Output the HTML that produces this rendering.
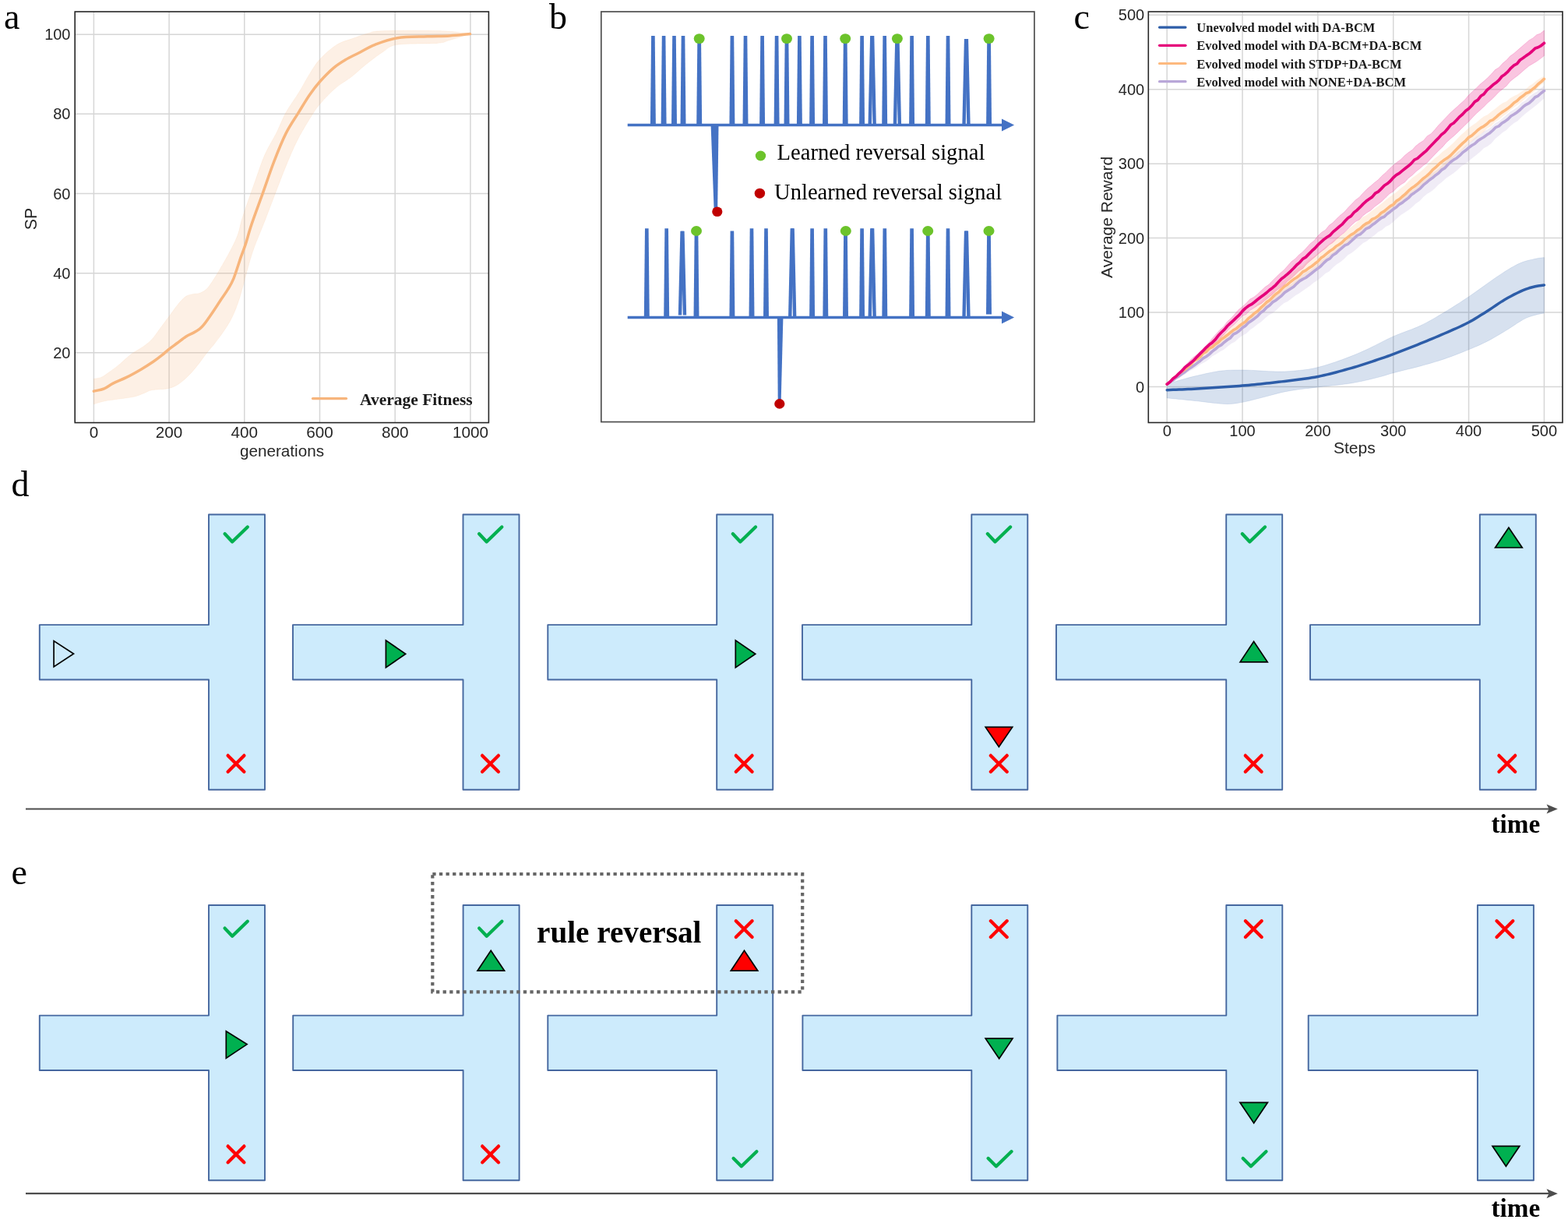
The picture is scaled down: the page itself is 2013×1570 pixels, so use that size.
<!DOCTYPE html>
<html><head><meta charset="utf-8"><title>Figure</title>
<style>html,body{margin:0;padding:0;background:#fff;} svg{display:block;}</style></head>
<body>
<svg width="2013" height="1570" viewBox="0 0 2013 1570">
<rect width="2013" height="1570" fill="#fff"/>
<text x="5" y="37.3" font-family="'Liberation Serif', 'Times New Roman', serif" font-size="46" font-weight="normal" text-anchor="start" fill="#000" >a</text>
<text x="705" y="37.3" font-family="'Liberation Serif', 'Times New Roman', serif" font-size="46" font-weight="normal" text-anchor="start" fill="#000" >b</text>
<text x="1378.5" y="37.3" font-family="'Liberation Serif', 'Times New Roman', serif" font-size="46" font-weight="normal" text-anchor="start" fill="#000" >c</text>
<text x="14.5" y="636.5" font-family="'Liberation Serif', 'Times New Roman', serif" font-size="46" font-weight="normal" text-anchor="start" fill="#000" >d</text>
<text x="14.5" y="1135.2" font-family="'Liberation Serif', 'Times New Roman', serif" font-size="46" font-weight="normal" text-anchor="start" fill="#000" >e</text>
<g>
<line x1="120.40" y1="15.0" x2="120.40" y2="542.6" stroke="#d6d6d6" stroke-width="1.5"/>
<line x1="217.10" y1="15.0" x2="217.10" y2="542.6" stroke="#d6d6d6" stroke-width="1.5"/>
<line x1="313.80" y1="15.0" x2="313.80" y2="542.6" stroke="#d6d6d6" stroke-width="1.5"/>
<line x1="410.50" y1="15.0" x2="410.50" y2="542.6" stroke="#d6d6d6" stroke-width="1.5"/>
<line x1="507.20" y1="15.0" x2="507.20" y2="542.6" stroke="#d6d6d6" stroke-width="1.5"/>
<line x1="603.90" y1="15.0" x2="603.90" y2="542.6" stroke="#d6d6d6" stroke-width="1.5"/>
<line x1="96.2" y1="452.84" x2="627.4" y2="452.84" stroke="#d6d6d6" stroke-width="1.5"/>
<line x1="96.2" y1="350.68" x2="627.4" y2="350.68" stroke="#d6d6d6" stroke-width="1.5"/>
<line x1="96.2" y1="248.52" x2="627.4" y2="248.52" stroke="#d6d6d6" stroke-width="1.5"/>
<line x1="96.2" y1="146.36" x2="627.4" y2="146.36" stroke="#d6d6d6" stroke-width="1.5"/>
<line x1="96.2" y1="44.20" x2="627.4" y2="44.20" stroke="#d6d6d6" stroke-width="1.5"/>
</g>
<path d="M120.40,486.30 C121.98,485.98 127.03,485.52 129.90,484.40 C132.77,483.28 133.77,482.30 137.60,479.60 C141.43,476.90 147.80,472.33 152.90,468.20 C158.00,464.07 163.10,458.63 168.20,454.80 C173.30,450.97 179.05,448.38 183.50,445.20 C187.95,442.02 191.08,439.83 194.90,435.70 C198.72,431.57 202.57,425.50 206.40,420.40 C210.23,415.30 214.08,410.20 217.90,405.10 C221.72,400.00 225.80,393.93 229.30,389.80 C232.80,385.67 235.72,382.37 238.90,380.30 C242.08,378.23 245.53,378.05 248.40,377.40 C251.27,376.75 253.23,377.52 256.10,376.40 C258.97,375.28 262.42,373.88 265.60,370.70 C268.78,367.52 271.70,362.72 275.20,357.30 C278.70,351.88 282.78,344.88 286.60,338.20 C290.42,331.52 294.92,323.57 298.10,317.20 C301.28,310.83 303.45,306.48 305.70,300.00 C307.95,293.52 308.07,289.23 311.60,278.30 C315.13,267.37 322.13,247.77 326.90,234.40 C331.67,221.03 335.43,208.93 340.20,198.10 C344.97,187.27 351.03,178.32 355.50,169.40 C359.97,160.48 362.22,153.18 367.00,144.60 C371.78,136.02 379.12,126.18 384.20,117.90 C389.28,109.62 393.05,101.92 397.50,94.90 C401.95,87.88 405.17,82.00 410.90,75.80 C416.63,69.60 425.22,61.98 431.90,57.70 C438.58,53.42 444.32,52.55 451.00,50.10 C457.68,47.65 465.32,44.73 472.00,43.00 C478.68,41.27 475.18,40.25 491.10,39.70 C507.02,39.15 548.77,39.05 567.50,39.70 C586.23,40.35 597.50,42.95 603.50,43.60 L603.50,43.60 C599.10,44.93 584.05,49.63 577.10,51.60 C570.15,53.57 572.95,54.45 561.80,55.40 C550.65,56.35 521.98,55.38 510.20,57.30 C498.42,59.22 498.10,62.45 491.10,66.90 C484.10,71.35 474.88,78.68 468.20,84.00 C461.52,89.32 457.05,94.12 451.00,98.80 C444.95,103.48 438.27,106.70 431.90,112.10 C425.53,117.50 417.88,125.47 412.80,131.20 C407.72,136.93 406.48,138.53 401.40,146.50 C396.32,154.47 388.03,167.85 382.30,179.00 C376.57,190.15 371.78,201.93 367.00,213.40 C362.22,224.87 358.07,236.20 353.60,247.80 C349.13,259.40 344.88,270.97 340.20,283.00 C335.52,295.03 329.33,309.20 325.50,320.00 C321.67,330.80 320.17,337.43 317.20,347.80 C314.23,358.17 310.88,372.33 307.70,382.20 C304.52,392.07 301.62,399.68 298.10,407.00 C294.58,414.32 290.42,420.37 286.60,426.10 C282.78,431.83 278.70,436.93 275.20,441.40 C271.70,445.87 269.10,448.43 265.60,452.90 C262.10,457.37 258.02,463.43 254.20,468.20 C250.38,472.97 246.85,477.37 242.70,481.50 C238.55,485.63 233.77,490.13 229.30,493.00 C224.83,495.87 221.63,497.42 215.90,498.70 C210.17,499.98 199.98,499.73 194.90,500.70 C189.82,501.67 189.22,503.07 185.40,504.50 C181.58,505.93 177.42,508.03 172.00,509.30 C166.58,510.57 159.27,511.15 152.90,512.10 C146.53,513.05 139.22,513.88 133.80,515.00 C128.38,516.12 122.63,518.17 120.40,518.80 Z" fill="#F7B57C" fill-opacity="0.2" stroke="#F7B57C" stroke-opacity="0.12" stroke-width="1"/>
<path d="M120.40,502.20 C122.63,501.63 129.67,500.48 133.80,498.80 C137.93,497.12 140.43,494.50 145.20,492.10 C149.97,489.70 156.35,487.43 162.40,484.40 C168.45,481.37 175.77,477.25 181.50,473.90 C187.23,470.55 192.33,467.33 196.80,464.30 C201.27,461.27 205.12,458.23 208.30,455.70 C211.48,453.17 212.72,451.63 215.90,449.10 C219.08,446.57 223.57,443.37 227.40,440.50 C231.23,437.63 235.38,434.13 238.90,431.90 C242.42,429.67 245.63,428.70 248.50,427.10 C251.37,425.50 253.88,424.05 256.10,422.30 C258.32,420.55 259.25,419.78 261.80,416.60 C264.35,413.42 267.90,408.30 271.40,403.20 C274.90,398.10 279.30,391.25 282.80,386.00 C286.30,380.75 289.53,376.48 292.40,371.70 C295.27,366.92 297.18,364.27 300.00,357.30 C302.82,350.33 306.75,337.22 309.30,329.90 C311.85,322.58 313.02,320.40 315.30,313.40 C317.58,306.40 319.32,298.83 323.00,287.90 C326.68,276.97 332.62,261.18 337.40,247.80 C342.18,234.42 346.77,220.33 351.70,207.60 C356.63,194.87 361.75,181.90 367.00,171.40 C372.25,160.90 378.12,152.88 383.20,144.60 C388.28,136.32 392.88,128.38 397.50,121.70 C402.12,115.02 405.80,110.23 410.90,104.50 C416.00,98.77 422.68,91.92 428.10,87.30 C433.52,82.68 438.08,79.98 443.40,76.80 C448.72,73.62 453.65,71.45 460.00,68.20 C466.35,64.95 473.13,60.55 481.50,57.30 C489.87,54.05 499.05,50.45 510.20,48.70 C521.35,46.95 537.25,47.27 548.40,46.80 C559.55,46.33 567.92,46.43 577.10,45.90 C586.28,45.37 599.10,43.98 603.50,43.60" fill="none" stroke="#F7B57C" stroke-width="3.5" stroke-linejoin="round" stroke-linecap="round"/>
<rect x="96.2" y="15.0" width="531.20" height="527.60" fill="none" stroke="#262626" stroke-width="1.6"/>
<text x="120.40" y="562.0" font-family="'Liberation Sans', Arial, sans-serif" font-size="20.7" font-weight="normal" text-anchor="middle" fill="#262626" >0</text>
<text x="217.10" y="562.0" font-family="'Liberation Sans', Arial, sans-serif" font-size="20.7" font-weight="normal" text-anchor="middle" fill="#262626" >200</text>
<text x="313.80" y="562.0" font-family="'Liberation Sans', Arial, sans-serif" font-size="20.7" font-weight="normal" text-anchor="middle" fill="#262626" >400</text>
<text x="410.50" y="562.0" font-family="'Liberation Sans', Arial, sans-serif" font-size="20.7" font-weight="normal" text-anchor="middle" fill="#262626" >600</text>
<text x="507.20" y="562.0" font-family="'Liberation Sans', Arial, sans-serif" font-size="20.7" font-weight="normal" text-anchor="middle" fill="#262626" >800</text>
<text x="603.90" y="562.0" font-family="'Liberation Sans', Arial, sans-serif" font-size="20.7" font-weight="normal" text-anchor="middle" fill="#262626" >1000</text>
<text x="90.5" y="459.94" font-family="'Liberation Sans', Arial, sans-serif" font-size="20" font-weight="normal" text-anchor="end" fill="#262626" >20</text>
<text x="90.5" y="357.78" font-family="'Liberation Sans', Arial, sans-serif" font-size="20" font-weight="normal" text-anchor="end" fill="#262626" >40</text>
<text x="90.5" y="255.62" font-family="'Liberation Sans', Arial, sans-serif" font-size="20" font-weight="normal" text-anchor="end" fill="#262626" >60</text>
<text x="90.5" y="153.46" font-family="'Liberation Sans', Arial, sans-serif" font-size="20" font-weight="normal" text-anchor="end" fill="#262626" >80</text>
<text x="90.5" y="51.30" font-family="'Liberation Sans', Arial, sans-serif" font-size="20" font-weight="normal" text-anchor="end" fill="#262626" >100</text>
<text x="362" y="585.6" font-family="'Liberation Sans', Arial, sans-serif" font-size="20.7" font-weight="normal" text-anchor="middle" fill="#262626" >generations</text>
<text x="0" y="0" font-family="'Liberation Sans', Arial, sans-serif" font-size="21.3" font-weight="normal" text-anchor="middle" fill="#262626" transform="translate(46.9,281) rotate(-90)">SP</text>
<line x1="401.5" y1="511.6" x2="444.5" y2="511.6" stroke="#F7B57C" stroke-width="3.3" stroke-linecap="round"/>
<text x="462" y="519.6" font-family="'Liberation Serif', 'Times New Roman', serif" font-size="21.5" font-weight="bold" text-anchor="start" fill="#1a1a1a" >Average Fitness</text>
<rect x="771.8" y="15.0" width="556.1" height="526.6" fill="none" stroke="#4f4f4f" stroke-width="1.7"/>
<line x1="805.7" y1="160.5" x2="1288" y2="160.5" stroke="#4472C4" stroke-width="3.4"/>
<path d="M1286,152.5 L1302.1,160.5 L1286,168.5 Z" fill="#4472C4"/>
<path d="M834.90,161.50 L836.10,46.00 L840.70,46.00 L841.90,161.50 Z" fill="#4472C4"/>
<path d="M848.60,161.50 L849.80,46.00 L854.40,46.00 L855.60,161.50 Z" fill="#4472C4"/>
<path d="M862.00,161.50 L863.20,46.00 L867.80,46.00 L869.00,161.50 Z" fill="#4472C4"/>
<path d="M873.50,161.50 L874.70,46.00 L879.30,46.00 L880.50,161.50 Z" fill="#4472C4"/>
<path d="M894.20,161.50 L895.40,46.00 L900.00,46.00 L901.20,161.50 Z" fill="#4472C4"/>
<path d="M936.40,161.50 L937.60,46.00 L942.20,46.00 L943.40,161.50 Z" fill="#4472C4"/>
<path d="M953.50,161.50 L954.70,46.00 L959.30,46.00 L960.50,161.50 Z" fill="#4472C4"/>
<path d="M975.10,161.50 L976.30,46.00 L980.90,46.00 L982.10,161.50 Z" fill="#4472C4"/>
<path d="M993.60,161.50 L994.80,46.00 L999.40,46.00 L1000.60,161.50 Z" fill="#4472C4"/>
<path d="M1006.50,161.50 L1007.70,46.00 L1012.30,46.00 L1013.50,161.50 Z" fill="#4472C4"/>
<path d="M1022.90,161.50 L1024.10,46.00 L1028.70,46.00 L1029.90,161.50 Z" fill="#4472C4"/>
<path d="M1039.10,161.50 L1040.30,46.00 L1044.90,46.00 L1046.10,161.50 Z" fill="#4472C4"/>
<path d="M1056.00,161.50 L1057.20,46.00 L1061.80,46.00 L1063.00,161.50 Z" fill="#4472C4"/>
<path d="M1081.70,161.50 L1082.90,46.00 L1087.50,46.00 L1088.70,161.50 Z" fill="#4472C4"/>
<path d="M1103.10,161.50 L1104.30,46.00 L1108.90,46.00 L1110.10,161.50 Z" fill="#4472C4"/>
<path d="M1114.50,161.50 L1117.10,46.00 L1121.50,46.00 L1118.90,161.50 Z" fill="#4472C4"/>
<path d="M1120.50,161.50 L1117.90,46.00 L1122.30,46.00 L1124.90,161.50 Z" fill="#4472C4"/>
<path d="M1132.20,161.50 L1133.40,46.00 L1138.00,46.00 L1139.20,161.50 Z" fill="#4472C4"/>
<path d="M1146.70,161.50 L1149.30,46.00 L1153.70,46.00 L1151.10,161.50 Z" fill="#4472C4"/>
<path d="M1152.70,161.50 L1150.10,46.00 L1154.50,46.00 L1157.10,161.50 Z" fill="#4472C4"/>
<path d="M1167.10,161.50 L1168.30,46.00 L1172.90,46.00 L1174.10,161.50 Z" fill="#4472C4"/>
<path d="M1187.80,161.50 L1189.00,46.00 L1193.60,46.00 L1194.80,161.50 Z" fill="#4472C4"/>
<path d="M1213.50,161.50 L1214.70,46.00 L1219.30,46.00 L1220.50,161.50 Z" fill="#4472C4"/>
<path d="M1235.30,161.50 L1237.90,49.90 L1242.30,49.90 L1239.70,161.50 Z" fill="#4472C4"/>
<path d="M1241.30,161.50 L1238.70,49.90 L1243.10,49.90 L1245.70,161.50 Z" fill="#4472C4"/>
<path d="M1266.10,161.50 L1267.30,46.00 L1271.90,46.00 L1273.10,161.50 Z" fill="#4472C4"/>
<ellipse cx="897.7" cy="49.6" rx="7" ry="6.4" fill="#6CC32B"/>
<ellipse cx="1010" cy="49.6" rx="7" ry="6.4" fill="#6CC32B"/>
<ellipse cx="1085.2" cy="49.6" rx="7" ry="6.4" fill="#6CC32B"/>
<ellipse cx="1151.9" cy="49.6" rx="7" ry="6.4" fill="#6CC32B"/>
<ellipse cx="1269.6" cy="49.6" rx="7" ry="6.4" fill="#6CC32B"/>
<path d="M912.6,161 L922.5,161 L921.2,268 L916.6,268 Z" fill="#4472C4"/>
<ellipse cx="920.8" cy="271.8" rx="6.6" ry="6.3" fill="#C00000"/>
<line x1="805.7" y1="407.5" x2="1288" y2="407.5" stroke="#4472C4" stroke-width="3.4"/>
<path d="M1286,399.5 L1302.1,407.5 L1286,415.5 Z" fill="#4472C4"/>
<path d="M826.80,408.50 L828.00,293.30 L832.60,293.30 L833.80,408.50 Z" fill="#4472C4"/>
<path d="M852.20,408.50 L853.40,293.30 L858.00,293.30 L859.20,408.50 Z" fill="#4472C4"/>
<path d="M870.80,404.40 L873.40,296.80 L877.80,296.80 L875.20,404.40 Z" fill="#4472C4"/>
<path d="M876.80,404.40 L874.20,296.80 L878.60,296.80 L881.20,404.40 Z" fill="#4472C4"/>
<path d="M890.50,408.50 L891.70,293.30 L896.30,293.30 L897.50,408.50 Z" fill="#4472C4"/>
<path d="M936.40,408.50 L937.60,296.60 L942.20,296.60 L943.40,408.50 Z" fill="#4472C4"/>
<path d="M961.50,408.50 L962.70,293.30 L967.30,293.30 L968.50,408.50 Z" fill="#4472C4"/>
<path d="M980.00,408.50 L981.20,293.30 L985.80,293.30 L987.00,408.50 Z" fill="#4472C4"/>
<path d="M1012.00,408.50 L1014.60,293.30 L1019.00,293.30 L1016.40,408.50 Z" fill="#4472C4"/>
<path d="M1018.00,408.50 L1015.40,293.30 L1019.80,293.30 L1022.40,408.50 Z" fill="#4472C4"/>
<path d="M1039.10,408.50 L1040.30,293.30 L1044.90,293.30 L1046.10,408.50 Z" fill="#4472C4"/>
<path d="M1056.30,408.50 L1057.50,293.30 L1062.10,293.30 L1063.30,408.50 Z" fill="#4472C4"/>
<path d="M1082.00,408.50 L1083.20,293.30 L1087.80,293.30 L1089.00,408.50 Z" fill="#4472C4"/>
<path d="M1103.10,408.50 L1104.30,293.30 L1108.90,293.30 L1110.10,408.50 Z" fill="#4472C4"/>
<path d="M1114.50,408.50 L1117.10,293.30 L1121.50,293.30 L1118.90,408.50 Z" fill="#4472C4"/>
<path d="M1120.50,408.50 L1117.90,293.30 L1122.30,293.30 L1124.90,408.50 Z" fill="#4472C4"/>
<path d="M1132.30,408.50 L1133.50,293.30 L1138.10,293.30 L1139.30,408.50 Z" fill="#4472C4"/>
<path d="M1167.10,408.50 L1168.30,293.30 L1172.90,293.30 L1174.10,408.50 Z" fill="#4472C4"/>
<path d="M1187.80,408.50 L1189.00,293.30 L1193.60,293.30 L1194.80,408.50 Z" fill="#4472C4"/>
<path d="M1213.50,408.50 L1214.70,293.30 L1219.30,293.30 L1220.50,408.50 Z" fill="#4472C4"/>
<path d="M1235.30,408.50 L1237.90,296.60 L1242.30,296.60 L1239.70,408.50 Z" fill="#4472C4"/>
<path d="M1241.30,408.50 L1238.70,296.60 L1243.10,296.60 L1245.70,408.50 Z" fill="#4472C4"/>
<path d="M1266.00,403.60 L1267.20,293.30 L1271.80,293.30 L1273.00,403.60 Z" fill="#4472C4"/>
<ellipse cx="894.0" cy="296.5" rx="7" ry="6.4" fill="#6CC32B"/>
<ellipse cx="1085.8" cy="296.5" rx="7" ry="6.4" fill="#6CC32B"/>
<ellipse cx="1191.2" cy="296.5" rx="7" ry="6.4" fill="#6CC32B"/>
<ellipse cx="1269.5" cy="296.5" rx="7" ry="6.4" fill="#6CC32B"/>
<path d="M997.9,408 L1005.4,408 L1002.7,514 L998.7,514 Z" fill="#4472C4"/>
<ellipse cx="1000.8" cy="518.4" rx="6.6" ry="6.3" fill="#C00000"/>
<ellipse cx="976.5" cy="200" rx="6.7" ry="6.5" fill="#6CC32B"/>
<ellipse cx="975.4" cy="248.2" rx="6.7" ry="6.5" fill="#C00000"/>
<text x="997.6" y="205" font-family="'Liberation Serif', 'Times New Roman', serif" font-size="28.6" font-weight="normal" text-anchor="start" fill="#000" >Learned reversal signal</text>
<text x="994" y="255.5" font-family="'Liberation Serif', 'Times New Roman', serif" font-size="28.6" font-weight="normal" text-anchor="start" fill="#000" >Unlearned reversal signal</text>
<line x1="1498.20" y1="15.0" x2="1498.20" y2="542.5" stroke="#d6d6d6" stroke-width="1.5"/>
<line x1="1595.04" y1="15.0" x2="1595.04" y2="542.5" stroke="#d6d6d6" stroke-width="1.5"/>
<line x1="1691.88" y1="15.0" x2="1691.88" y2="542.5" stroke="#d6d6d6" stroke-width="1.5"/>
<line x1="1788.72" y1="15.0" x2="1788.72" y2="542.5" stroke="#d6d6d6" stroke-width="1.5"/>
<line x1="1885.56" y1="15.0" x2="1885.56" y2="542.5" stroke="#d6d6d6" stroke-width="1.5"/>
<line x1="1982.40" y1="15.0" x2="1982.40" y2="542.5" stroke="#d6d6d6" stroke-width="1.5"/>
<line x1="1474.3" y1="496.50" x2="2006.0" y2="496.50" stroke="#d6d6d6" stroke-width="1.5"/>
<line x1="1474.3" y1="401.05" x2="2006.0" y2="401.05" stroke="#d6d6d6" stroke-width="1.5"/>
<line x1="1474.3" y1="305.60" x2="2006.0" y2="305.60" stroke="#d6d6d6" stroke-width="1.5"/>
<line x1="1474.3" y1="210.15" x2="2006.0" y2="210.15" stroke="#d6d6d6" stroke-width="1.5"/>
<line x1="1474.3" y1="114.70" x2="2006.0" y2="114.70" stroke="#d6d6d6" stroke-width="1.5"/>
<line x1="1474.3" y1="19.25" x2="2006.0" y2="19.25" stroke="#d6d6d6" stroke-width="1.5"/>
<path d="M1498.20,493.16 L1502.07,491.92 L1505.95,490.67 L1509.82,489.46 L1513.69,488.32 L1517.57,487.22 L1521.44,486.14 L1525.32,485.09 L1529.19,484.07 L1533.06,483.10 L1536.94,482.20 L1540.81,481.30 L1544.68,480.40 L1548.56,479.53 L1552.43,478.69 L1556.30,477.90 L1560.18,477.19 L1564.05,476.57 L1567.92,476.05 L1571.80,475.66 L1575.67,475.37 L1579.55,475.17 L1583.42,475.05 L1587.29,475.00 L1591.17,474.99 L1595.04,475.02 L1598.91,475.10 L1602.79,475.22 L1606.66,475.39 L1610.53,475.59 L1614.41,475.81 L1618.28,476.04 L1622.16,476.27 L1626.03,476.49 L1629.90,476.68 L1633.78,476.84 L1637.65,476.96 L1641.52,477.02 L1645.40,477.02 L1649.27,476.92 L1653.14,476.75 L1657.02,476.49 L1660.89,476.18 L1664.76,475.82 L1668.64,475.42 L1672.51,475.00 L1676.39,474.55 L1680.26,474.01 L1684.13,473.35 L1688.01,472.54 L1691.88,471.59 L1695.75,470.53 L1699.63,469.41 L1703.50,468.25 L1707.37,467.03 L1711.25,465.77 L1715.12,464.47 L1719.00,463.12 L1722.87,461.72 L1726.74,460.29 L1730.62,458.83 L1734.49,457.32 L1738.36,455.77 L1742.24,454.17 L1746.11,452.53 L1749.98,450.84 L1753.86,449.09 L1757.73,447.25 L1761.60,445.34 L1765.48,443.38 L1769.35,441.40 L1773.23,439.41 L1777.10,437.45 L1780.97,435.53 L1784.85,433.67 L1788.72,431.91 L1792.59,430.26 L1796.47,428.71 L1800.34,427.23 L1804.21,425.79 L1808.09,424.35 L1811.96,422.89 L1815.84,421.37 L1819.71,419.75 L1823.58,418.02 L1827.46,416.15 L1831.33,414.16 L1835.20,412.06 L1839.08,409.89 L1842.95,407.65 L1846.82,405.36 L1850.70,403.05 L1854.57,400.73 L1858.44,398.39 L1862.32,396.00 L1866.19,393.58 L1870.07,391.12 L1873.94,388.63 L1877.81,386.10 L1881.69,383.53 L1885.56,380.93 L1889.43,378.28 L1893.31,375.57 L1897.18,372.82 L1901.05,370.06 L1904.93,367.28 L1908.80,364.50 L1912.68,361.74 L1916.55,359.01 L1920.42,356.32 L1924.30,353.69 L1928.17,351.13 L1932.04,348.62 L1935.92,346.18 L1939.79,343.85 L1943.66,341.65 L1947.54,339.62 L1951.41,337.81 L1955.28,336.28 L1959.16,335.05 L1963.03,334.04 L1966.91,333.14 L1970.78,332.29 L1974.65,331.47 L1978.53,331.01 L1982.40,330.61 L1982.40,402.00 L1978.53,402.68 L1974.65,403.42 L1970.78,404.46 L1966.91,405.55 L1963.03,406.80 L1959.16,408.36 L1955.28,410.36 L1951.41,412.65 L1947.54,415.10 L1943.66,417.66 L1939.79,420.22 L1935.92,422.73 L1932.04,425.10 L1928.17,427.43 L1924.30,429.75 L1920.42,432.03 L1916.55,434.26 L1912.68,436.39 L1908.80,438.42 L1904.93,440.34 L1901.05,442.15 L1897.18,443.89 L1893.31,445.56 L1889.43,447.18 L1885.56,448.78 L1881.69,450.37 L1877.81,451.93 L1873.94,453.47 L1870.07,454.99 L1866.19,456.47 L1862.32,457.90 L1858.44,459.30 L1854.57,460.64 L1850.70,461.93 L1846.82,463.17 L1842.95,464.37 L1839.08,465.53 L1835.20,466.65 L1831.33,467.75 L1827.46,468.83 L1823.58,469.89 L1819.71,470.92 L1815.84,471.92 L1811.96,472.89 L1808.09,473.84 L1804.21,474.79 L1800.34,475.74 L1796.47,476.70 L1792.59,477.68 L1788.72,478.69 L1784.85,479.78 L1780.97,480.97 L1777.10,482.18 L1773.23,483.33 L1769.35,484.35 L1765.48,485.31 L1761.60,486.27 L1757.73,487.20 L1753.86,488.12 L1749.98,488.99 L1746.11,489.82 L1742.24,490.60 L1738.36,491.31 L1734.49,491.94 L1730.62,492.52 L1726.74,493.04 L1722.87,493.52 L1719.00,493.98 L1715.12,494.40 L1711.25,494.82 L1707.37,495.22 L1703.50,495.63 L1699.63,496.06 L1695.75,496.50 L1691.88,496.98 L1688.01,497.46 L1684.13,497.92 L1680.26,498.38 L1676.39,498.84 L1672.51,499.31 L1668.64,499.81 L1664.76,500.33 L1660.89,500.88 L1657.02,501.49 L1653.14,502.15 L1649.27,502.89 L1645.40,503.74 L1641.52,504.68 L1637.65,505.69 L1633.78,506.73 L1629.90,507.79 L1626.03,508.83 L1622.16,509.84 L1618.28,510.80 L1614.41,511.80 L1610.53,512.80 L1606.66,513.78 L1602.79,514.72 L1598.91,515.58 L1595.04,516.35 L1591.17,517.05 L1587.29,517.69 L1583.42,518.21 L1579.55,518.56 L1575.67,518.66 L1571.80,518.53 L1567.92,518.30 L1564.05,517.97 L1560.18,517.59 L1556.30,517.15 L1552.43,516.67 L1548.56,516.19 L1544.68,515.70 L1540.81,515.24 L1536.94,514.81 L1533.06,514.42 L1529.19,514.03 L1525.32,513.64 L1521.44,513.25 L1517.57,512.86 L1513.69,512.47 L1509.82,512.08 L1505.95,511.69 L1502.07,511.30 L1498.20,510.91 Z" fill="#2D5DA8" fill-opacity="0.19" stroke="#2D5DA8" stroke-opacity="0.12" stroke-width="1"/>
<path d="M1498.20,492.20 L1503.04,489.04 L1507.88,484.80 L1512.73,481.49 L1517.57,477.41 L1522.41,473.74 L1527.25,471.16 L1532.09,467.60 L1536.94,462.34 L1541.78,459.72 L1546.62,456.02 L1551.46,450.76 L1556.30,447.93 L1561.15,443.35 L1565.99,440.14 L1570.83,435.90 L1575.67,432.88 L1580.51,427.98 L1585.36,423.55 L1590.20,420.22 L1595.04,415.80 L1599.88,411.92 L1604.72,409.08 L1609.57,403.75 L1614.41,400.03 L1619.25,396.47 L1624.09,392.83 L1628.93,387.09 L1633.78,383.72 L1638.62,379.21 L1643.46,374.97 L1648.30,371.45 L1653.14,367.30 L1657.99,364.59 L1662.83,360.14 L1667.67,357.16 L1672.51,352.57 L1677.35,349.02 L1682.20,346.82 L1687.04,343.01 L1691.88,339.07 L1696.72,333.79 L1701.56,330.91 L1706.41,326.62 L1711.25,323.29 L1716.09,318.93 L1720.93,315.19 L1725.77,311.29 L1730.62,306.89 L1735.46,302.97 L1740.30,298.47 L1745.14,295.05 L1749.98,290.78 L1754.83,287.24 L1759.67,283.45 L1764.51,280.61 L1769.35,278.18 L1774.19,273.45 L1779.04,269.79 L1783.88,266.35 L1788.72,263.28 L1793.56,259.18 L1798.40,256.27 L1803.25,251.18 L1808.09,247.73 L1812.93,244.31 L1817.77,240.74 L1822.61,235.22 L1827.46,230.94 L1832.30,228.62 L1837.14,223.23 L1841.98,219.93 L1846.82,216.40 L1851.67,212.07 L1856.51,206.78 L1861.35,202.45 L1866.19,200.13 L1871.03,195.19 L1875.88,192.47 L1880.72,187.42 L1885.56,184.41 L1890.40,179.66 L1895.24,175.80 L1900.09,173.06 L1904.93,168.49 L1909.77,166.17 L1914.61,162.96 L1919.45,158.29 L1924.30,155.67 L1929.14,151.63 L1933.98,147.50 L1938.82,143.38 L1943.66,140.51 L1948.51,136.99 L1953.35,131.67 L1958.19,128.98 L1963.03,124.02 L1967.87,120.40 L1972.72,117.65 L1977.56,113.75 L1982.40,109.93 L1982.40,126.15 L1977.56,130.56 L1972.72,134.77 L1967.87,138.43 L1963.03,142.24 L1958.19,145.99 L1953.35,150.24 L1948.51,155.32 L1943.66,158.05 L1938.82,162.08 L1933.98,167.12 L1929.14,170.11 L1924.30,174.34 L1919.45,178.23 L1914.61,184.00 L1909.77,187.68 L1904.93,190.16 L1900.09,195.06 L1895.24,198.94 L1890.40,202.82 L1885.56,206.82 L1880.72,210.75 L1875.88,213.48 L1871.03,218.13 L1866.19,222.15 L1861.35,225.53 L1856.51,228.70 L1851.67,233.33 L1846.82,237.00 L1841.98,241.97 L1837.14,246.11 L1832.30,248.82 L1827.46,252.84 L1822.61,257.96 L1817.77,261.25 L1812.93,265.95 L1808.09,269.65 L1803.25,273.09 L1798.40,276.10 L1793.56,280.35 L1788.72,284.72 L1783.88,288.70 L1779.04,290.92 L1774.19,295.15 L1769.35,297.78 L1764.51,302.12 L1759.67,305.57 L1754.83,309.51 L1749.98,312.03 L1745.14,316.31 L1740.30,320.63 L1735.46,324.43 L1730.62,327.29 L1725.77,332.36 L1720.93,336.16 L1716.09,339.32 L1711.25,343.59 L1706.41,348.54 L1701.56,350.99 L1696.72,355.55 L1691.88,359.43 L1687.04,362.50 L1682.20,366.46 L1677.35,370.02 L1672.51,373.32 L1667.67,376.77 L1662.83,379.61 L1657.99,383.24 L1653.14,387.04 L1648.30,389.15 L1643.46,393.25 L1638.62,398.12 L1633.78,402.02 L1628.93,404.56 L1624.09,408.55 L1619.25,413.12 L1614.41,416.29 L1609.57,420.35 L1604.72,423.60 L1599.88,428.22 L1595.04,430.65 L1590.20,434.17 L1585.36,438.78 L1580.51,441.16 L1575.67,444.90 L1570.83,449.06 L1565.99,451.40 L1561.15,454.79 L1556.30,457.22 L1551.46,461.78 L1546.62,465.12 L1541.78,467.36 L1536.94,471.02 L1532.09,473.94 L1527.25,476.15 L1522.41,479.77 L1517.57,482.89 L1512.73,485.82 L1507.88,488.73 L1503.04,491.98 L1498.20,495.07 Z" fill="#B9A7D8" fill-opacity="0.22"/>
<path d="M1498.20,492.20 L1503.04,488.32 L1507.88,484.19 L1512.73,478.75 L1517.57,474.87 L1522.41,469.43 L1527.25,466.47 L1532.09,460.43 L1536.94,456.48 L1541.78,451.73 L1546.62,447.54 L1551.46,443.37 L1556.30,439.88 L1561.15,436.92 L1565.99,431.51 L1570.83,428.63 L1575.67,424.41 L1580.51,419.75 L1585.36,416.02 L1590.20,412.21 L1595.04,407.13 L1599.88,403.62 L1604.72,399.91 L1609.57,395.71 L1614.41,390.04 L1619.25,386.18 L1624.09,380.96 L1628.93,377.17 L1633.78,372.91 L1638.62,367.83 L1643.46,363.01 L1648.30,360.12 L1653.14,354.90 L1657.99,350.69 L1662.83,347.00 L1667.67,343.11 L1672.51,340.83 L1677.35,335.83 L1682.20,331.58 L1687.04,329.30 L1691.88,325.03 L1696.72,321.17 L1701.56,316.81 L1706.41,313.16 L1711.25,309.21 L1716.09,304.79 L1720.93,302.43 L1725.77,298.51 L1730.62,294.57 L1735.46,290.78 L1740.30,287.11 L1745.14,281.66 L1749.98,278.21 L1754.83,276.04 L1759.67,271.63 L1764.51,268.37 L1769.35,264.74 L1774.19,260.99 L1779.04,256.70 L1783.88,253.01 L1788.72,249.55 L1793.56,245.90 L1798.40,241.60 L1803.25,237.91 L1808.09,232.96 L1812.93,228.50 L1817.77,224.96 L1822.61,221.34 L1827.46,216.95 L1832.30,212.37 L1837.14,207.73 L1841.98,203.21 L1846.82,199.82 L1851.67,194.93 L1856.51,191.41 L1861.35,187.56 L1866.19,183.05 L1871.03,178.04 L1875.88,172.90 L1880.72,168.88 L1885.56,164.15 L1890.40,160.71 L1895.24,157.40 L1900.09,153.25 L1904.93,149.47 L1909.77,147.25 L1914.61,143.21 L1919.45,139.87 L1924.30,135.69 L1929.14,132.33 L1933.98,130.22 L1938.82,126.07 L1943.66,123.14 L1948.51,121.02 L1953.35,117.49 L1958.19,114.96 L1963.03,110.42 L1967.87,107.39 L1972.72,103.58 L1977.56,100.35 L1982.40,97.52 L1982.40,106.11 L1977.56,109.45 L1972.72,114.14 L1967.87,118.98 L1963.03,122.19 L1958.19,126.38 L1953.35,130.73 L1948.51,134.44 L1943.66,137.76 L1938.82,141.54 L1933.98,146.04 L1929.14,149.60 L1924.30,153.65 L1919.45,156.52 L1914.61,161.95 L1909.77,164.53 L1904.93,169.17 L1900.09,172.90 L1895.24,177.13 L1890.40,180.70 L1885.56,184.61 L1880.72,189.81 L1875.88,194.02 L1871.03,198.63 L1866.19,202.73 L1861.35,206.80 L1856.51,211.85 L1851.67,215.15 L1846.82,220.03 L1841.98,222.94 L1837.14,227.63 L1832.30,232.72 L1827.46,236.78 L1822.61,240.48 L1817.77,245.42 L1812.93,249.48 L1808.09,253.79 L1803.25,256.89 L1798.40,261.49 L1793.56,265.35 L1788.72,268.53 L1783.88,272.70 L1779.04,277.67 L1774.19,281.21 L1769.35,283.36 L1764.51,287.38 L1759.67,291.19 L1754.83,294.63 L1749.98,297.86 L1745.14,301.26 L1740.30,305.02 L1735.46,309.71 L1730.62,312.30 L1725.77,316.68 L1720.93,319.35 L1716.09,324.02 L1711.25,328.57 L1706.41,331.69 L1701.56,335.57 L1696.72,339.22 L1691.88,342.98 L1687.04,346.60 L1682.20,349.53 L1677.35,353.38 L1672.51,357.66 L1667.67,361.37 L1662.83,364.85 L1657.99,367.38 L1653.14,371.59 L1648.30,375.83 L1643.46,380.21 L1638.62,382.59 L1633.78,387.19 L1628.93,392.78 L1624.09,396.05 L1619.25,400.87 L1614.41,404.73 L1609.57,410.35 L1604.72,412.92 L1599.88,417.15 L1595.04,420.13 L1590.20,423.95 L1585.36,427.78 L1580.51,430.93 L1575.67,435.74 L1570.83,437.79 L1565.99,442.77 L1561.15,445.91 L1556.30,448.05 L1551.46,453.08 L1546.62,456.71 L1541.78,460.50 L1536.94,462.85 L1532.09,467.84 L1527.25,471.93 L1522.41,474.66 L1517.57,479.45 L1512.73,482.44 L1507.88,485.98 L1503.04,489.96 L1498.20,494.11 Z" fill="#FDB97E" fill-opacity="0.22"/>
<path d="M1498.20,492.20 L1503.04,487.53 L1507.88,483.27 L1512.73,478.57 L1517.57,472.96 L1522.41,468.35 L1527.25,463.11 L1532.09,458.58 L1536.94,454.99 L1541.78,450.28 L1546.62,445.29 L1551.46,440.50 L1556.30,434.45 L1561.15,428.94 L1565.99,423.53 L1570.83,419.38 L1575.67,412.83 L1580.51,408.54 L1585.36,403.08 L1590.20,397.40 L1595.04,393.73 L1599.88,389.33 L1604.72,384.10 L1609.57,381.52 L1614.41,377.64 L1619.25,373.04 L1624.09,368.51 L1628.93,365.36 L1633.78,360.23 L1638.62,355.47 L1643.46,350.77 L1648.30,346.67 L1653.14,341.28 L1657.99,335.85 L1662.83,332.19 L1667.67,327.13 L1672.51,323.18 L1677.35,318.12 L1682.20,312.64 L1687.04,308.99 L1691.88,302.86 L1696.72,298.23 L1701.56,295.28 L1706.41,289.22 L1711.25,285.85 L1716.09,280.63 L1720.93,276.13 L1725.77,272.37 L1730.62,266.73 L1735.46,261.79 L1740.30,256.74 L1745.14,253.20 L1749.98,247.71 L1754.83,242.76 L1759.67,238.78 L1764.51,234.53 L1769.35,230.86 L1774.19,225.68 L1779.04,221.53 L1783.88,216.45 L1788.72,212.20 L1793.56,208.16 L1798.40,204.74 L1803.25,199.78 L1808.09,195.78 L1812.93,192.62 L1817.77,187.23 L1822.61,183.60 L1827.46,180.46 L1832.30,174.65 L1837.14,171.76 L1841.98,166.61 L1846.82,160.75 L1851.67,155.74 L1856.51,150.63 L1861.35,145.52 L1866.19,141.11 L1871.03,136.71 L1875.88,132.34 L1880.72,127.94 L1885.56,122.11 L1890.40,117.44 L1895.24,113.22 L1900.09,108.23 L1904.93,104.34 L1909.77,99.92 L1914.61,95.11 L1919.45,89.62 L1924.30,86.68 L1929.14,81.31 L1933.98,77.37 L1938.82,72.00 L1943.66,68.50 L1948.51,64.35 L1953.35,60.12 L1958.19,55.90 L1963.03,51.64 L1967.87,48.93 L1972.72,44.76 L1977.56,43.03 L1982.40,39.10 L1982.40,71.56 L1977.56,75.33 L1972.72,78.87 L1967.87,81.70 L1963.03,84.52 L1958.19,88.49 L1953.35,92.78 L1948.51,96.90 L1943.66,100.45 L1938.82,104.42 L1933.98,110.19 L1929.14,114.23 L1924.30,118.05 L1919.45,123.16 L1914.61,128.05 L1909.77,132.00 L1904.93,137.07 L1900.09,141.49 L1895.24,145.82 L1890.40,150.84 L1885.56,156.10 L1880.72,160.63 L1875.88,165.47 L1871.03,170.16 L1866.19,174.71 L1861.35,178.76 L1856.51,183.18 L1851.67,188.97 L1846.82,193.41 L1841.98,198.39 L1837.14,203.42 L1832.30,208.72 L1827.46,212.28 L1822.61,216.56 L1817.77,220.32 L1812.93,225.05 L1808.09,228.63 L1803.25,234.06 L1798.40,237.02 L1793.56,240.71 L1788.72,245.80 L1783.88,248.68 L1779.04,253.42 L1774.19,258.26 L1769.35,261.91 L1764.51,265.61 L1759.67,270.13 L1754.83,272.99 L1749.98,276.64 L1745.14,281.90 L1740.30,284.50 L1735.46,288.63 L1730.62,293.85 L1725.77,298.50 L1720.93,302.25 L1716.09,306.54 L1711.25,311.37 L1706.41,314.35 L1701.56,318.94 L1696.72,322.45 L1691.88,326.46 L1687.04,330.76 L1682.20,334.75 L1677.35,338.92 L1672.51,344.78 L1667.67,347.81 L1662.83,352.46 L1657.99,357.06 L1653.14,360.67 L1648.30,366.00 L1643.46,369.43 L1638.62,372.97 L1633.78,377.63 L1628.93,381.66 L1624.09,385.56 L1619.25,389.64 L1614.41,392.17 L1609.57,395.47 L1604.72,398.67 L1599.88,403.39 L1595.04,405.76 L1590.20,411.10 L1585.36,415.72 L1580.51,419.69 L1575.67,424.54 L1570.83,430.00 L1565.99,434.41 L1561.15,439.65 L1556.30,443.44 L1551.46,447.63 L1546.62,451.86 L1541.78,456.29 L1536.94,461.14 L1532.09,465.77 L1527.25,469.93 L1522.41,473.03 L1517.57,477.04 L1512.73,482.43 L1507.88,486.58 L1503.04,490.39 L1498.20,494.11 Z" fill="#EE4C9E" fill-opacity="0.32" stroke="#E5007A" stroke-opacity="0.18" stroke-width="1"/>
<path d="M1498.20,500.70 L1502.07,500.53 L1505.95,500.37 L1509.82,500.22 L1513.69,500.06 L1517.57,499.91 L1521.44,499.75 L1525.32,499.58 L1529.19,499.39 L1533.06,499.20 L1536.94,498.98 L1540.81,498.76 L1544.68,498.53 L1548.56,498.30 L1552.43,498.06 L1556.30,497.83 L1560.18,497.58 L1564.05,497.33 L1567.92,497.08 L1571.80,496.82 L1575.67,496.55 L1579.55,496.27 L1583.42,495.99 L1587.29,495.69 L1591.17,495.39 L1595.04,495.07 L1598.91,494.74 L1602.79,494.40 L1606.66,494.04 L1610.53,493.68 L1614.41,493.30 L1618.28,492.91 L1622.16,492.51 L1626.03,492.10 L1629.90,491.67 L1633.78,491.24 L1637.65,490.79 L1641.52,490.34 L1645.40,489.87 L1649.27,489.42 L1653.14,488.97 L1657.02,488.52 L1660.89,488.07 L1664.76,487.60 L1668.64,487.11 L1672.51,486.60 L1676.39,486.05 L1680.26,485.47 L1684.13,484.84 L1688.01,484.16 L1691.88,483.42 L1695.75,482.63 L1699.63,481.78 L1703.50,480.88 L1707.37,479.94 L1711.25,478.96 L1715.12,477.95 L1719.00,476.91 L1722.87,475.85 L1726.74,474.77 L1730.62,473.68 L1734.49,472.58 L1738.36,471.47 L1742.24,470.36 L1746.11,469.19 L1749.98,467.95 L1753.86,466.68 L1757.73,465.37 L1761.60,464.05 L1765.48,462.72 L1769.35,461.41 L1773.23,460.11 L1777.10,458.81 L1780.97,457.48 L1784.85,456.10 L1788.72,454.66 L1792.59,453.19 L1796.47,451.70 L1800.34,450.21 L1804.21,448.69 L1808.09,447.17 L1811.96,445.63 L1815.84,444.09 L1819.71,442.54 L1823.58,440.98 L1827.46,439.40 L1831.33,437.82 L1835.20,436.23 L1839.08,434.62 L1842.95,433.00 L1846.82,431.36 L1850.70,429.69 L1854.57,428.01 L1858.44,426.32 L1862.32,424.64 L1866.19,422.95 L1870.07,421.23 L1873.94,419.48 L1877.81,417.66 L1881.69,415.76 L1885.56,413.77 L1889.43,411.64 L1893.31,409.38 L1897.18,407.02 L1901.05,404.60 L1904.93,402.15 L1908.80,399.71 L1912.68,397.22 L1916.55,394.63 L1920.42,392.01 L1924.30,389.41 L1928.17,386.89 L1932.04,384.51 L1935.92,382.29 L1939.79,380.18 L1943.66,378.16 L1947.54,376.24 L1951.41,374.42 L1955.28,372.69 L1959.16,371.10 L1963.03,369.80 L1966.91,368.74 L1970.78,367.81 L1974.65,366.96 L1978.53,366.42 L1982.40,365.92" fill="none" stroke="#2D5DA8" stroke-width="3.5" stroke-linejoin="round" stroke-linecap="round"/>
<path d="M1498.20,493.16 L1502.07,489.89 L1505.95,488.22 L1509.82,484.92 L1513.69,482.62 L1517.57,479.85 L1521.44,477.17 L1525.32,474.01 L1529.19,471.65 L1533.06,469.11 L1536.94,466.17 L1540.81,463.25 L1544.68,459.85 L1548.56,457.71 L1552.43,454.85 L1556.30,451.18 L1560.18,448.29 L1564.05,444.80 L1567.92,442.92 L1571.80,439.30 L1575.67,436.27 L1579.55,433.86 L1583.42,429.19 L1587.29,427.40 L1591.17,424.53 L1595.04,420.78 L1598.91,418.21 L1602.79,414.32 L1606.66,411.68 L1610.53,408.94 L1614.41,405.89 L1618.28,401.49 L1622.16,398.97 L1626.03,394.77 L1629.90,392.01 L1633.78,387.92 L1637.65,385.76 L1641.52,382.68 L1645.40,379.57 L1649.27,375.60 L1653.14,372.94 L1657.02,370.47 L1660.89,367.97 L1664.76,364.05 L1668.64,360.65 L1672.51,358.40 L1676.39,356.50 L1680.26,353.53 L1684.13,350.48 L1688.01,347.36 L1691.88,344.58 L1695.75,341.49 L1699.63,337.37 L1703.50,333.84 L1707.37,331.91 L1711.25,327.44 L1715.12,325.14 L1719.00,321.42 L1722.87,318.07 L1726.74,314.88 L1730.62,313.30 L1734.49,309.71 L1738.36,306.09 L1742.24,302.42 L1746.11,300.86 L1749.98,297.49 L1753.86,293.60 L1757.73,292.02 L1761.60,288.78 L1765.48,286.16 L1769.35,282.86 L1773.23,279.73 L1777.10,278.30 L1780.97,274.55 L1784.85,271.70 L1788.72,268.56 L1792.59,266.01 L1796.47,262.31 L1800.34,260.18 L1804.21,256.98 L1808.09,254.16 L1811.96,250.06 L1815.84,247.40 L1819.71,244.58 L1823.58,241.56 L1827.46,237.41 L1831.33,234.40 L1835.20,231.01 L1839.08,228.36 L1842.95,224.97 L1846.82,222.34 L1850.70,218.18 L1854.57,215.93 L1858.44,211.70 L1862.32,208.02 L1866.19,205.06 L1870.07,202.99 L1873.94,199.72 L1877.81,195.67 L1881.69,193.02 L1885.56,189.65 L1889.43,186.71 L1893.31,184.51 L1897.18,180.84 L1901.05,178.23 L1904.93,176.02 L1908.80,173.07 L1912.68,170.69 L1916.55,167.22 L1920.42,163.33 L1924.30,161.85 L1928.17,158.10 L1932.04,155.92 L1935.92,153.01 L1939.79,149.06 L1943.66,146.79 L1947.54,144.15 L1951.41,140.99 L1955.28,137.17 L1959.16,134.30 L1963.03,132.32 L1966.91,128.97 L1970.78,124.73 L1974.65,123.04 L1978.53,119.48 L1982.40,116.61" fill="none" stroke="#B9A7D8" stroke-width="3.6" stroke-linejoin="round" stroke-linecap="round"/>
<path d="M1498.20,493.16 L1502.07,490.04 L1505.95,486.15 L1509.82,483.17 L1513.69,479.57 L1517.57,476.71 L1521.44,474.02 L1525.32,470.77 L1529.19,467.67 L1533.06,463.15 L1536.94,461.16 L1540.81,458.12 L1544.68,453.35 L1548.56,451.56 L1552.43,447.31 L1556.30,445.69 L1560.18,442.06 L1564.05,439.53 L1567.92,435.55 L1571.80,433.00 L1575.67,430.04 L1579.55,426.91 L1583.42,423.78 L1587.29,421.72 L1591.17,418.28 L1595.04,415.50 L1598.91,412.99 L1602.79,408.59 L1606.66,405.75 L1610.53,401.99 L1614.41,399.56 L1618.28,395.43 L1622.16,391.96 L1626.03,387.89 L1629.90,385.42 L1633.78,381.41 L1637.65,377.70 L1641.52,375.05 L1645.40,370.99 L1649.27,367.52 L1653.14,364.95 L1657.02,361.51 L1660.89,358.57 L1664.76,356.25 L1668.64,353.06 L1672.51,349.00 L1676.39,347.20 L1680.26,344.10 L1684.13,341.75 L1688.01,338.56 L1691.88,335.67 L1695.75,331.35 L1699.63,328.70 L1703.50,325.44 L1707.37,322.24 L1711.25,319.88 L1715.12,316.33 L1719.00,314.01 L1722.87,311.22 L1726.74,307.33 L1730.62,304.43 L1734.49,301.39 L1738.36,299.24 L1742.24,295.81 L1746.11,293.56 L1749.98,289.70 L1753.86,287.01 L1757.73,285.28 L1761.60,281.38 L1765.48,279.86 L1769.35,277.18 L1773.23,273.25 L1777.10,271.09 L1780.97,267.75 L1784.85,264.54 L1788.72,262.48 L1792.59,258.12 L1796.47,255.74 L1800.34,252.24 L1804.21,249.12 L1808.09,245.14 L1811.96,241.81 L1815.84,239.26 L1819.71,236.21 L1823.58,232.51 L1827.46,228.94 L1831.33,226.14 L1835.20,222.64 L1839.08,218.23 L1842.95,214.99 L1846.82,211.19 L1850.70,207.88 L1854.57,204.95 L1858.44,202.67 L1862.32,199.52 L1866.19,195.56 L1870.07,191.52 L1873.94,187.62 L1877.81,183.86 L1881.69,180.57 L1885.56,176.33 L1889.43,174.09 L1893.31,170.68 L1897.18,166.93 L1901.05,164.11 L1904.93,162.07 L1908.80,159.27 L1912.68,155.41 L1916.55,153.87 L1920.42,150.71 L1924.30,147.07 L1928.17,144.12 L1932.04,141.82 L1935.92,139.09 L1939.79,135.89 L1943.66,131.99 L1947.54,129.57 L1951.41,125.72 L1955.28,123.08 L1959.16,119.74 L1963.03,118.32 L1966.91,114.93 L1970.78,112.00 L1974.65,108.00 L1978.53,104.87 L1982.40,101.34" fill="none" stroke="#FDB97E" stroke-width="3.6" stroke-linejoin="round" stroke-linecap="round"/>
<path d="M1498.20,493.16 L1502.07,490.37 L1505.95,485.97 L1509.82,483.22 L1513.69,479.32 L1517.57,475.91 L1521.44,471.44 L1525.32,468.57 L1529.19,465.29 L1533.06,462.11 L1536.94,457.86 L1540.81,453.91 L1544.68,450.18 L1548.56,446.09 L1552.43,442.53 L1556.30,439.66 L1560.18,435.92 L1564.05,430.84 L1567.92,426.73 L1571.80,423.12 L1575.67,418.49 L1579.55,414.92 L1583.42,411.39 L1587.29,407.67 L1591.17,404.12 L1595.04,399.37 L1598.91,395.60 L1602.79,392.66 L1606.66,390.71 L1610.53,387.71 L1614.41,384.46 L1618.28,381.56 L1622.16,378.71 L1626.03,375.75 L1629.90,372.25 L1633.78,369.47 L1637.65,366.02 L1641.52,361.70 L1645.40,357.67 L1649.27,354.90 L1653.14,351.56 L1657.02,348.04 L1660.89,344.22 L1664.76,339.97 L1668.64,336.90 L1672.51,332.36 L1676.39,330.08 L1680.26,326.15 L1684.13,322.17 L1688.01,318.76 L1691.88,314.45 L1695.75,310.99 L1699.63,307.38 L1703.50,304.53 L1707.37,302.17 L1711.25,297.88 L1715.12,294.55 L1719.00,291.25 L1722.87,288.15 L1726.74,283.83 L1730.62,279.72 L1734.49,277.31 L1738.36,272.64 L1742.24,269.66 L1746.11,265.96 L1749.98,261.87 L1753.86,258.34 L1757.73,255.47 L1761.60,252.85 L1765.48,248.22 L1769.35,246.11 L1773.23,242.39 L1777.10,238.27 L1780.97,235.79 L1784.85,232.51 L1788.72,227.99 L1792.59,224.67 L1796.47,222.46 L1800.34,219.08 L1804.21,216.03 L1808.09,213.06 L1811.96,209.62 L1815.84,205.12 L1819.71,203.39 L1823.58,199.82 L1827.46,196.51 L1831.33,193.30 L1835.20,189.04 L1839.08,185.02 L1842.95,180.93 L1846.82,177.17 L1850.70,172.65 L1854.57,169.87 L1858.44,165.32 L1862.32,160.27 L1866.19,158.00 L1870.07,153.90 L1873.94,149.82 L1877.81,146.50 L1881.69,142.35 L1885.56,139.53 L1889.43,135.52 L1893.31,130.59 L1897.18,128.30 L1901.05,123.29 L1904.93,120.85 L1908.80,115.77 L1912.68,112.64 L1916.55,109.03 L1920.42,106.26 L1924.30,102.80 L1928.17,97.99 L1932.04,95.44 L1935.92,91.89 L1939.79,87.32 L1943.66,83.81 L1947.54,81.86 L1951.41,77.00 L1955.28,74.51 L1959.16,71.63 L1963.03,69.06 L1966.91,65.74 L1970.78,62.08 L1974.65,60.77 L1978.53,58.53 L1982.40,55.33" fill="none" stroke="#E5007A" stroke-width="3.7" stroke-linejoin="round" stroke-linecap="round"/>
<rect x="1474.3" y="15.0" width="531.70" height="527.50" fill="none" stroke="#262626" stroke-width="1.6"/>
<text x="1498.20" y="560.3" font-family="'Liberation Sans', Arial, sans-serif" font-size="20" font-weight="normal" text-anchor="middle" fill="#262626" >0</text>
<text x="1595.04" y="560.3" font-family="'Liberation Sans', Arial, sans-serif" font-size="20" font-weight="normal" text-anchor="middle" fill="#262626" >100</text>
<text x="1691.88" y="560.3" font-family="'Liberation Sans', Arial, sans-serif" font-size="20" font-weight="normal" text-anchor="middle" fill="#262626" >200</text>
<text x="1788.72" y="560.3" font-family="'Liberation Sans', Arial, sans-serif" font-size="20" font-weight="normal" text-anchor="middle" fill="#262626" >300</text>
<text x="1885.56" y="560.3" font-family="'Liberation Sans', Arial, sans-serif" font-size="20" font-weight="normal" text-anchor="middle" fill="#262626" >400</text>
<text x="1982.40" y="560.3" font-family="'Liberation Sans', Arial, sans-serif" font-size="20" font-weight="normal" text-anchor="middle" fill="#262626" >500</text>
<text x="1469.2" y="503.60" font-family="'Liberation Sans', Arial, sans-serif" font-size="20" font-weight="normal" text-anchor="end" fill="#262626" >0</text>
<text x="1469.2" y="408.15" font-family="'Liberation Sans', Arial, sans-serif" font-size="20" font-weight="normal" text-anchor="end" fill="#262626" >100</text>
<text x="1469.2" y="312.70" font-family="'Liberation Sans', Arial, sans-serif" font-size="20" font-weight="normal" text-anchor="end" fill="#262626" >200</text>
<text x="1469.2" y="217.25" font-family="'Liberation Sans', Arial, sans-serif" font-size="20" font-weight="normal" text-anchor="end" fill="#262626" >300</text>
<text x="1469.2" y="121.80" font-family="'Liberation Sans', Arial, sans-serif" font-size="20" font-weight="normal" text-anchor="end" fill="#262626" >400</text>
<text x="1469.2" y="26.35" font-family="'Liberation Sans', Arial, sans-serif" font-size="20" font-weight="normal" text-anchor="end" fill="#262626" >500</text>
<text x="1738.9" y="582.4" font-family="'Liberation Sans', Arial, sans-serif" font-size="21.1" font-weight="normal" text-anchor="middle" fill="#262626" >Steps</text>
<text x="0" y="0" font-family="'Liberation Sans', Arial, sans-serif" font-size="21" font-weight="normal" text-anchor="middle" fill="#262626" transform="translate(1428.2,278.9) rotate(-90)">Average Reward</text>
<line x1="1488.5" y1="35.1" x2="1522" y2="35.1" stroke="#2D5DA8" stroke-width="3.2" stroke-linecap="round"/>
<text x="1536.3" y="41.2" font-family="'Liberation Serif', 'Times New Roman', serif" font-size="16.55" font-weight="bold" text-anchor="start" fill="#1a1a1a" >Unevolved model with DA-BCM</text>
<line x1="1488.5" y1="58.3" x2="1522" y2="58.3" stroke="#E5007A" stroke-width="3.2" stroke-linecap="round"/>
<text x="1536.3" y="64.4" font-family="'Liberation Serif', 'Times New Roman', serif" font-size="16.55" font-weight="bold" text-anchor="start" fill="#1a1a1a" >Evolved model with DA-BCM+DA-BCM</text>
<line x1="1488.5" y1="81.5" x2="1522" y2="81.5" stroke="#FDB97E" stroke-width="3.2" stroke-linecap="round"/>
<text x="1536.3" y="87.6" font-family="'Liberation Serif', 'Times New Roman', serif" font-size="16.55" font-weight="bold" text-anchor="start" fill="#1a1a1a" >Evolved model with STDP+DA-BCM</text>
<line x1="1488.5" y1="104.7" x2="1522" y2="104.7" stroke="#B9A7D8" stroke-width="3.2" stroke-linecap="round"/>
<text x="1536.3" y="110.8" font-family="'Liberation Serif', 'Times New Roman', serif" font-size="16.55" font-weight="bold" text-anchor="start" fill="#1a1a1a" >Evolved model with NONE+DA-BCM</text>
<path d="M268.00,660.50 L340.00,660.50 L340.00,1013.80 L268.00,1013.80 L268.00,872.50 L50.80,872.50 L50.80,802.10 L268.00,802.10 Z" fill="#CDEBFC" stroke="#45679F" stroke-width="1.9" stroke-linejoin="round"/>
<path d="M594.50,660.50 L666.50,660.50 L666.50,1013.80 L594.50,1013.80 L594.50,872.50 L376.00,872.50 L376.00,802.10 L594.50,802.10 Z" fill="#CDEBFC" stroke="#45679F" stroke-width="1.9" stroke-linejoin="round"/>
<path d="M920.20,660.50 L992.20,660.50 L992.20,1013.80 L920.20,1013.80 L920.20,872.50 L703.30,872.50 L703.30,802.10 L920.20,802.10 Z" fill="#CDEBFC" stroke="#45679F" stroke-width="1.9" stroke-linejoin="round"/>
<path d="M1247.30,660.50 L1319.30,660.50 L1319.30,1013.80 L1247.30,1013.80 L1247.30,872.50 L1030.00,872.50 L1030.00,802.10 L1247.30,802.10 Z" fill="#CDEBFC" stroke="#45679F" stroke-width="1.9" stroke-linejoin="round"/>
<path d="M1574.20,660.50 L1646.20,660.50 L1646.20,1013.80 L1574.20,1013.80 L1574.20,872.50 L1356.00,872.50 L1356.00,802.10 L1574.20,802.10 Z" fill="#CDEBFC" stroke="#45679F" stroke-width="1.9" stroke-linejoin="round"/>
<path d="M1899.80,660.50 L1971.80,660.50 L1971.80,1013.80 L1899.80,1013.80 L1899.80,872.50 L1682.00,872.50 L1682.00,802.10 L1899.80,802.10 Z" fill="#CDEBFC" stroke="#45679F" stroke-width="1.9" stroke-linejoin="round"/>
<path d="M288.60,685.30 L298.20,695.50 L317.80,676.50" fill="none" stroke="#00B050" stroke-width="4.3" stroke-linecap="round" stroke-linejoin="round"/>
<path d="M292.60,969.90 L313.40,990.70 M313.40,969.90 L292.60,990.70" fill="none" stroke="#FF0000" stroke-width="4.3" stroke-linecap="round"/>
<path d="M615.10,685.30 L624.70,695.50 L644.30,676.50" fill="none" stroke="#00B050" stroke-width="4.3" stroke-linecap="round" stroke-linejoin="round"/>
<path d="M619.10,969.90 L639.90,990.70 M639.90,969.90 L619.10,990.70" fill="none" stroke="#FF0000" stroke-width="4.3" stroke-linecap="round"/>
<path d="M940.80,685.30 L950.40,695.50 L970.00,676.50" fill="none" stroke="#00B050" stroke-width="4.3" stroke-linecap="round" stroke-linejoin="round"/>
<path d="M944.80,969.90 L965.60,990.70 M965.60,969.90 L944.80,990.70" fill="none" stroke="#FF0000" stroke-width="4.3" stroke-linecap="round"/>
<path d="M1267.90,685.30 L1277.50,695.50 L1297.10,676.50" fill="none" stroke="#00B050" stroke-width="4.3" stroke-linecap="round" stroke-linejoin="round"/>
<path d="M1271.90,969.90 L1292.70,990.70 M1292.70,969.90 L1271.90,990.70" fill="none" stroke="#FF0000" stroke-width="4.3" stroke-linecap="round"/>
<path d="M1594.80,685.30 L1604.40,695.50 L1624.00,676.50" fill="none" stroke="#00B050" stroke-width="4.3" stroke-linecap="round" stroke-linejoin="round"/>
<path d="M1598.80,969.90 L1619.60,990.70 M1619.60,969.90 L1598.80,990.70" fill="none" stroke="#FF0000" stroke-width="4.3" stroke-linecap="round"/>
<path d="M1924.40,969.90 L1945.20,990.70 M1945.20,969.90 L1924.40,990.70" fill="none" stroke="#FF0000" stroke-width="4.3" stroke-linecap="round"/>
<path d="M69.10,822.70 L69.10,855.90 L94.50,839.30 Z" fill="#CDEBFC" stroke="#000" stroke-width="1.7" stroke-linejoin="miter"/>
<path d="M495.40,822.00 L495.40,857.00 L520.70,839.50 Z" fill="#00B050" stroke="#000" stroke-width="1.7" stroke-linejoin="miter"/>
<path d="M944.30,822.00 L944.30,857.00 L969.80,839.50 Z" fill="#00B050" stroke="#000" stroke-width="1.7" stroke-linejoin="miter"/>
<path d="M1265.20,933.40 L1299.70,933.40 L1282.40,958.70 Z" fill="#FF0000" stroke="#000" stroke-width="1.7" stroke-linejoin="miter"/>
<path d="M1592.10,849.80 L1627.20,849.80 L1609.60,823.60 Z" fill="#00B050" stroke="#000" stroke-width="1.7" stroke-linejoin="miter"/>
<path d="M1919.60,703.00 L1954.20,703.00 L1936.90,677.30 Z" fill="#00B050" stroke="#000" stroke-width="1.7" stroke-linejoin="miter"/>
<line x1="33" y1="1038.5" x2="1990" y2="1038.5" stroke="#4d4d4d" stroke-width="2.2"/>
<path d="M1985.5,1032.5 L1999.8,1038.5 L1985.5,1044.5 L1988.5,1038.5 Z" fill="#4d4d4d"/>
<text x="1914.5" y="1068.9" font-family="'Liberation Serif', 'Times New Roman', serif" font-size="33.2" font-weight="bold" text-anchor="start" fill="#000" >time</text>
<path d="M268.00,1162.00 L340.00,1162.00 L340.00,1515.30 L268.00,1515.30 L268.00,1374.00 L50.80,1374.00 L50.80,1303.60 L268.00,1303.60 Z" fill="#CDEBFC" stroke="#45679F" stroke-width="1.9" stroke-linejoin="round"/>
<path d="M594.60,1162.00 L666.60,1162.00 L666.60,1515.30 L594.60,1515.30 L594.60,1374.00 L376.20,1374.00 L376.20,1303.60 L594.60,1303.60 Z" fill="#CDEBFC" stroke="#45679F" stroke-width="1.9" stroke-linejoin="round"/>
<path d="M920.20,1162.00 L992.20,1162.00 L992.20,1515.30 L920.20,1515.30 L920.20,1374.00 L703.30,1374.00 L703.30,1303.60 L920.20,1303.60 Z" fill="#CDEBFC" stroke="#45679F" stroke-width="1.9" stroke-linejoin="round"/>
<path d="M1247.30,1162.00 L1319.30,1162.00 L1319.30,1515.30 L1247.30,1515.30 L1247.30,1374.00 L1030.40,1374.00 L1030.40,1303.60 L1247.30,1303.60 Z" fill="#CDEBFC" stroke="#45679F" stroke-width="1.9" stroke-linejoin="round"/>
<path d="M1574.30,1162.00 L1646.30,1162.00 L1646.30,1515.30 L1574.30,1515.30 L1574.30,1374.00 L1357.40,1374.00 L1357.40,1303.60 L1574.30,1303.60 Z" fill="#CDEBFC" stroke="#45679F" stroke-width="1.9" stroke-linejoin="round"/>
<path d="M1896.90,1162.00 L1968.90,1162.00 L1968.90,1515.30 L1896.90,1515.30 L1896.90,1374.00 L1679.70,1374.00 L1679.70,1303.60 L1896.90,1303.60 Z" fill="#CDEBFC" stroke="#45679F" stroke-width="1.9" stroke-linejoin="round"/>
<path d="M288.60,1191.60 L298.20,1201.80 L317.80,1182.80" fill="none" stroke="#00B050" stroke-width="4.3" stroke-linecap="round" stroke-linejoin="round"/>
<path d="M292.60,1471.40 L313.40,1492.20 M313.40,1471.40 L292.60,1492.20" fill="none" stroke="#FF0000" stroke-width="4.3" stroke-linecap="round"/>
<path d="M615.20,1191.60 L624.80,1201.80 L644.40,1182.80" fill="none" stroke="#00B050" stroke-width="4.3" stroke-linecap="round" stroke-linejoin="round"/>
<path d="M619.20,1471.40 L640.00,1492.20 M640.00,1471.40 L619.20,1492.20" fill="none" stroke="#FF0000" stroke-width="4.3" stroke-linecap="round"/>
<path d="M944.80,1182.20 L965.60,1203.00 M965.60,1182.20 L944.80,1203.00" fill="none" stroke="#FF0000" stroke-width="4.3" stroke-linecap="round"/>
<path d="M941.60,1487.00 L951.80,1497.20 L971.40,1478.20" fill="none" stroke="#00B050" stroke-width="4.3" stroke-linecap="round" stroke-linejoin="round"/>
<path d="M1271.90,1182.20 L1292.70,1203.00 M1292.70,1182.20 L1271.90,1203.00" fill="none" stroke="#FF0000" stroke-width="4.3" stroke-linecap="round"/>
<path d="M1268.70,1487.00 L1278.90,1497.20 L1298.50,1478.20" fill="none" stroke="#00B050" stroke-width="4.3" stroke-linecap="round" stroke-linejoin="round"/>
<path d="M1598.90,1182.20 L1619.70,1203.00 M1619.70,1182.20 L1598.90,1203.00" fill="none" stroke="#FF0000" stroke-width="4.3" stroke-linecap="round"/>
<path d="M1595.70,1487.00 L1605.90,1497.20 L1625.50,1478.20" fill="none" stroke="#00B050" stroke-width="4.3" stroke-linecap="round" stroke-linejoin="round"/>
<path d="M1921.50,1182.20 L1942.30,1203.00 M1942.30,1182.20 L1921.50,1203.00" fill="none" stroke="#FF0000" stroke-width="4.3" stroke-linecap="round"/>
<path d="M290.30,1323.70 L290.30,1358.40 L317.10,1340.60 Z" fill="#00B050" stroke="#000" stroke-width="1.7" stroke-linejoin="miter"/>
<path d="M613.00,1246.20 L647.60,1246.20 L630.20,1220.30 Z" fill="#00B050" stroke="#000" stroke-width="1.7" stroke-linejoin="miter"/>
<path d="M938.30,1246.20 L972.80,1246.20 L955.50,1220.30 Z" fill="#FF0000" stroke="#000" stroke-width="1.7" stroke-linejoin="miter"/>
<path d="M1265.20,1333.20 L1300.00,1333.20 L1282.70,1358.90 Z" fill="#00B050" stroke="#000" stroke-width="1.7" stroke-linejoin="miter"/>
<path d="M1591.90,1415.30 L1627.40,1415.30 L1609.70,1441.70 Z" fill="#00B050" stroke="#000" stroke-width="1.7" stroke-linejoin="miter"/>
<path d="M1916.00,1471.30 L1950.80,1471.30 L1933.40,1497.30 Z" fill="#00B050" stroke="#000" stroke-width="1.7" stroke-linejoin="miter"/>
<rect x="555.3" y="1122.0" width="474.9" height="151.4" fill="none" stroke="#666" stroke-width="4.2" stroke-dasharray="4.3 4.3"/>
<text x="689.0" y="1210.0" font-family="'Liberation Serif', 'Times New Roman', serif" font-size="39.2" font-weight="bold" text-anchor="start" fill="#000" >rule reversal</text>
<line x1="33" y1="1532.2" x2="1990" y2="1532.2" stroke="#4d4d4d" stroke-width="2.2"/>
<path d="M1985.5,1526.2 L1999.8,1532.2 L1985.5,1538.2 L1988.5,1532.2 Z" fill="#4d4d4d"/>
<text x="1914.5" y="1562.2" font-family="'Liberation Serif', 'Times New Roman', serif" font-size="33.2" font-weight="bold" text-anchor="start" fill="#000" >time</text>
</svg>
</body></html>
